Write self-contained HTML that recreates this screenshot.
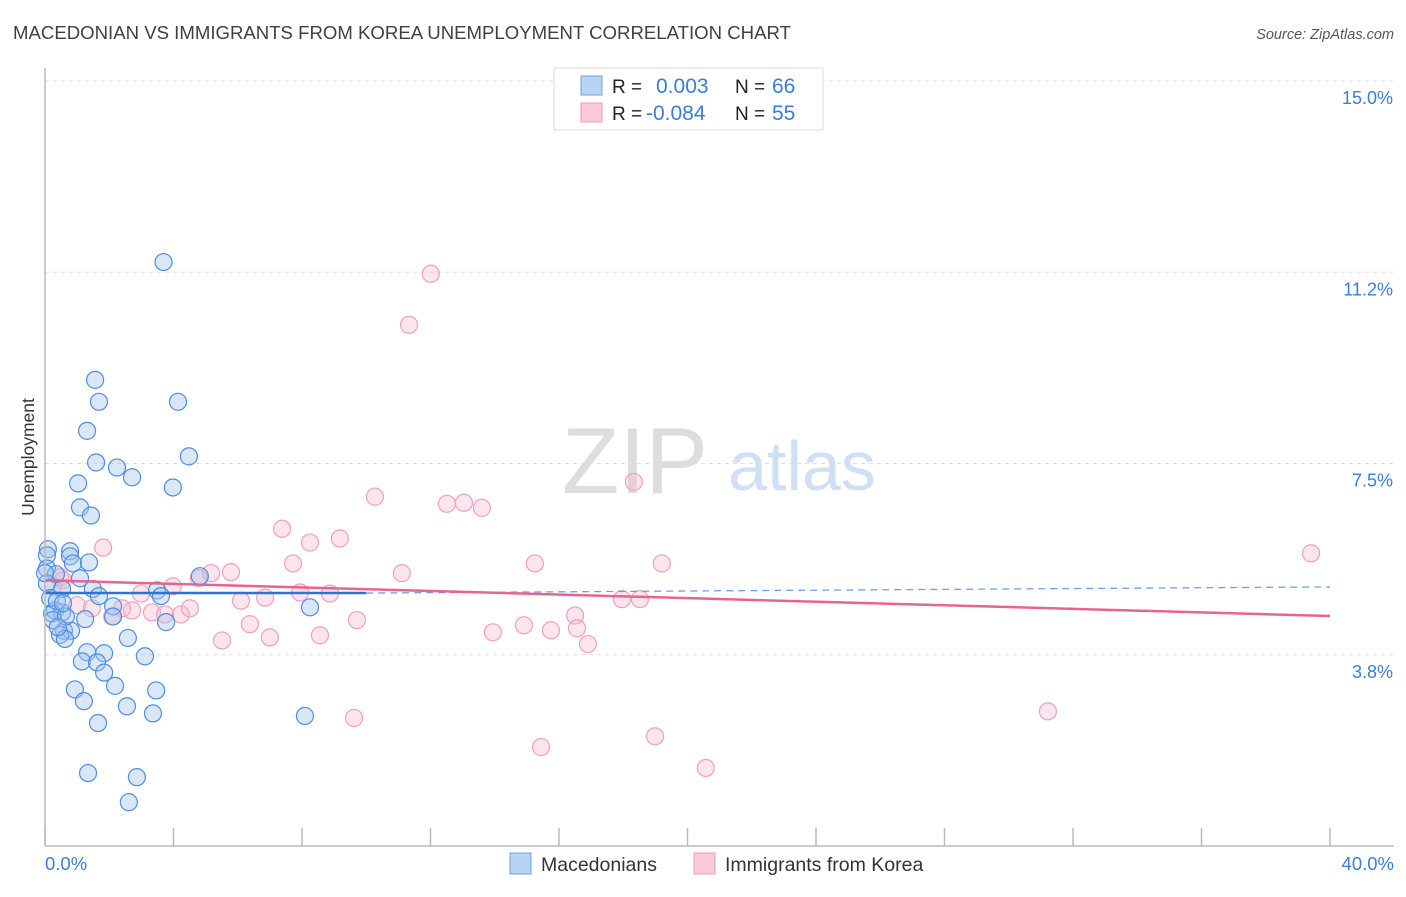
<!DOCTYPE html>
<html><head><meta charset="utf-8"><style>
body{margin:0;background:#fff;font-family:"Liberation Sans",sans-serif}
svg text{font-family:"Liberation Sans",sans-serif}
</style></head><body>
<svg width="1406" height="892">
<text x="13" y="39" font-size="18.6" fill="#404040">MACEDONIAN VS IMMIGRANTS FROM KOREA UNEMPLOYMENT CORRELATION CHART</text>
<text x="1394" y="39" font-size="14.5" fill="#555" font-style="italic" text-anchor="end">Source: ZipAtlas.com</text>
<text x="34" y="457" font-size="17.5" fill="#333" transform="rotate(-90 34 457)" text-anchor="middle">Unemployment</text>
<g id="grid"></g>
<text x="635" y="493" font-size="94" fill="#ddd" font-family="Liberation Serif" text-anchor="middle">ZIP</text>
<text x="802" y="490" font-size="70" fill="#cfe0f5" text-anchor="middle">atlas</text>
<g id="pts"></g>
<g id="lines"></g>
<line x1="45" y1="68" x2="45" y2="846" stroke="#bbb" stroke-width="1.5"/>
<line x1="45" y1="846" x2="1394" y2="846" stroke="#bbb" stroke-width="1.5"/>
<text x="45" y="870" font-size="18.5" fill="#3b7dd8">0.0%</text>
<text x="1394" y="870" font-size="18.5" fill="#3b7dd8" text-anchor="end">40.0%</text>
<g>
<rect x="554" y="68" width="269" height="62" fill="#fff" stroke="#ddd"/>
<rect x="581" y="76" width="21" height="19" fill="#b8d3f5" stroke="#6fa0e0"/>
<rect x="581" y="103" width="21" height="19" fill="#fbcbd9" stroke="#ee9ab4"/>
<text x="612" y="93" font-size="19" fill="#222">R = </text><text x="656" y="93" font-size="21" fill="#3b7dd8">0.003</text>
<text x="735" y="93" font-size="19" fill="#222">N = </text><text x="772" y="93" font-size="21" fill="#3b7dd8">66</text>
<text x="612" y="120" font-size="19" fill="#222">R = </text><text x="646" y="120" font-size="21" fill="#3b7dd8">-0.084</text>
<text x="735" y="120" font-size="19" fill="#222">N = </text><text x="772" y="120" font-size="21" fill="#3b7dd8">55</text>
</g>
<g>
<rect x="510" y="853" width="21" height="21" fill="#b8d3f5" stroke="#6fa0e0"/>
<text x="541" y="871" font-size="19.5" fill="#333">Macedonians</text>
<rect x="694" y="853" width="21" height="21" fill="#fbcbd9" stroke="#ee9ab4"/>
<text x="725" y="871" font-size="19.5" fill="#333">Immigrants from Korea</text>
</g>
</svg>
<script>
const yTicks=[3.75,7.5,11.25,15.0];
const yTickLabels=["3.8%","7.5%","11.2%","15.0%"];
const xTicks=[0,4,8,12,16,20,24,28,32,36,40];
const blueX=[3.69,1.56,1.68,4.14,1.31,4.48,1.59,2.24,2.71,3.98,1.03,1.09,1.43,0.09,0.78,0.06,0.78,0.87,1.37,0.06,0.34,1.09,0.53,1.49,1.68,3.49,3.61,4.82,8.25,2.12,2.12,0.31,0.53,0.22,1.25,3.77,0.59,0.81,0.47,0.62,2.58,1.31,1.84,3.11,1.15,1.62,1.84,0.93,2.18,3.46,1.21,2.55,3.36,1.65,8.09,1.34,2.86,2.61,0.06,0.16,0.37,0.25,0.65,0.40,0.56,0.0];
const blueY=[11.45,9.14,8.71,8.71,8.14,7.64,7.52,7.42,7.23,7.03,7.11,6.64,6.48,5.82,5.78,5.70,5.68,5.54,5.56,5.44,5.33,5.25,5.04,5.04,4.90,5.01,4.90,5.29,4.68,4.70,4.50,4.62,4.58,4.56,4.45,4.39,4.22,4.22,4.14,4.06,4.08,3.80,3.78,3.72,3.62,3.60,3.40,3.07,3.14,3.05,2.84,2.74,2.60,2.41,2.55,1.43,1.35,0.86,5.15,4.86,4.80,4.43,4.50,4.29,4.76,5.35];
const pinkX=[12.01,11.33,10.27,18.33,12.51,13.04,13.60,7.38,1.81,9.18,8.25,15.25,19.20,39.41,7.72,5.79,5.17,11.11,0.47,0.25,3.98,2.99,4.79,8.87,7.94,6.85,6.10,16.50,17.96,18.52,1.00,1.46,2.40,2.71,3.33,3.74,4.23,4.51,6.38,5.51,7.00,8.56,9.71,13.94,14.91,15.75,16.56,16.90,31.22,9.62,15.44,18.99,20.57,2.09,0.56];
const pinkY=[11.22,10.22,6.85,7.14,6.71,6.73,6.63,6.22,5.85,6.03,5.95,5.54,5.54,5.74,5.54,5.37,5.35,5.35,5.27,5.09,5.09,4.95,5.25,4.95,4.97,4.87,4.81,4.52,4.84,4.84,4.72,4.66,4.66,4.62,4.58,4.54,4.54,4.66,4.35,4.03,4.09,4.13,4.43,4.19,4.33,4.23,4.27,3.96,2.64,2.51,1.94,2.15,1.53,4.50,5.21];
const blueTrend=[4.96,4.96,5.08];
const pinkTrend=[5.21,4.51];
const X0=45,X1=1330,Y0=846,PXPER=51.0;
const xs=v=>X0+v/40*(X1-X0), ys=v=>Y0-v*PXPER;
const NS="http://www.w3.org/2000/svg";
function mk(t,a,p){const e=document.createElementNS(NS,t);for(const k in a)e.setAttribute(k,a[k]);p.appendChild(e);return e;}
const grid=document.getElementById('grid');
yTicks.forEach((v,i)=>{
 const l=mk('line',{x1:45,x2:1394,y1:ys(v),y2:ys(v),stroke:'#ddd','stroke-dasharray':'4 4'},grid);
 
 
 const t=mk('text',{x:1393,y:ys(v)+23,'font-size':18,fill:'#3b7dd8','text-anchor':'end'},grid);
 t.textContent=yTickLabels[i];
 
 
});
xTicks.forEach(v=>{
 const l=mk('line',{x1:xs(v),x2:xs(v),y1:828,y2:846,stroke:'#bbb','stroke-width':1.5},grid);
 
 
});
const pts=document.getElementById('pts');
function draw(X,Y,fill,stroke,name){X.forEach((x,i)=>{
 const c=mk('circle',{cx:xs(x),cy:ys(Y[i]),r:8.5,fill:fill,stroke:stroke,'stroke-width':1.2},pts);
 
 
});}
draw(pinkX,pinkY,'rgba(248,180,202,0.35)','#f0a0ba','korea-point');
draw(blueX,blueY,'rgba(160,196,240,0.4)','#4f8ede','macedonian-point');
const lines=document.getElementById('lines');
let a=mk('line',{x1:xs(0),y1:ys(blueTrend[0]),x2:xs(10),y2:ys(blueTrend[1]),stroke:'#2f72d6','stroke-width':2.5},lines);


a=mk('line',{x1:xs(10),y1:ys(blueTrend[1]),x2:xs(40),y2:ys(blueTrend[2]),stroke:'#6fa0e0','stroke-width':1.3,'stroke-dasharray':'7 5'},lines);


a=mk('line',{x1:xs(0),y1:ys(pinkTrend[0]),x2:xs(40),y2:ys(pinkTrend[1]),stroke:'#e8648e','stroke-width':2.5},lines);


</script>
</body></html>
